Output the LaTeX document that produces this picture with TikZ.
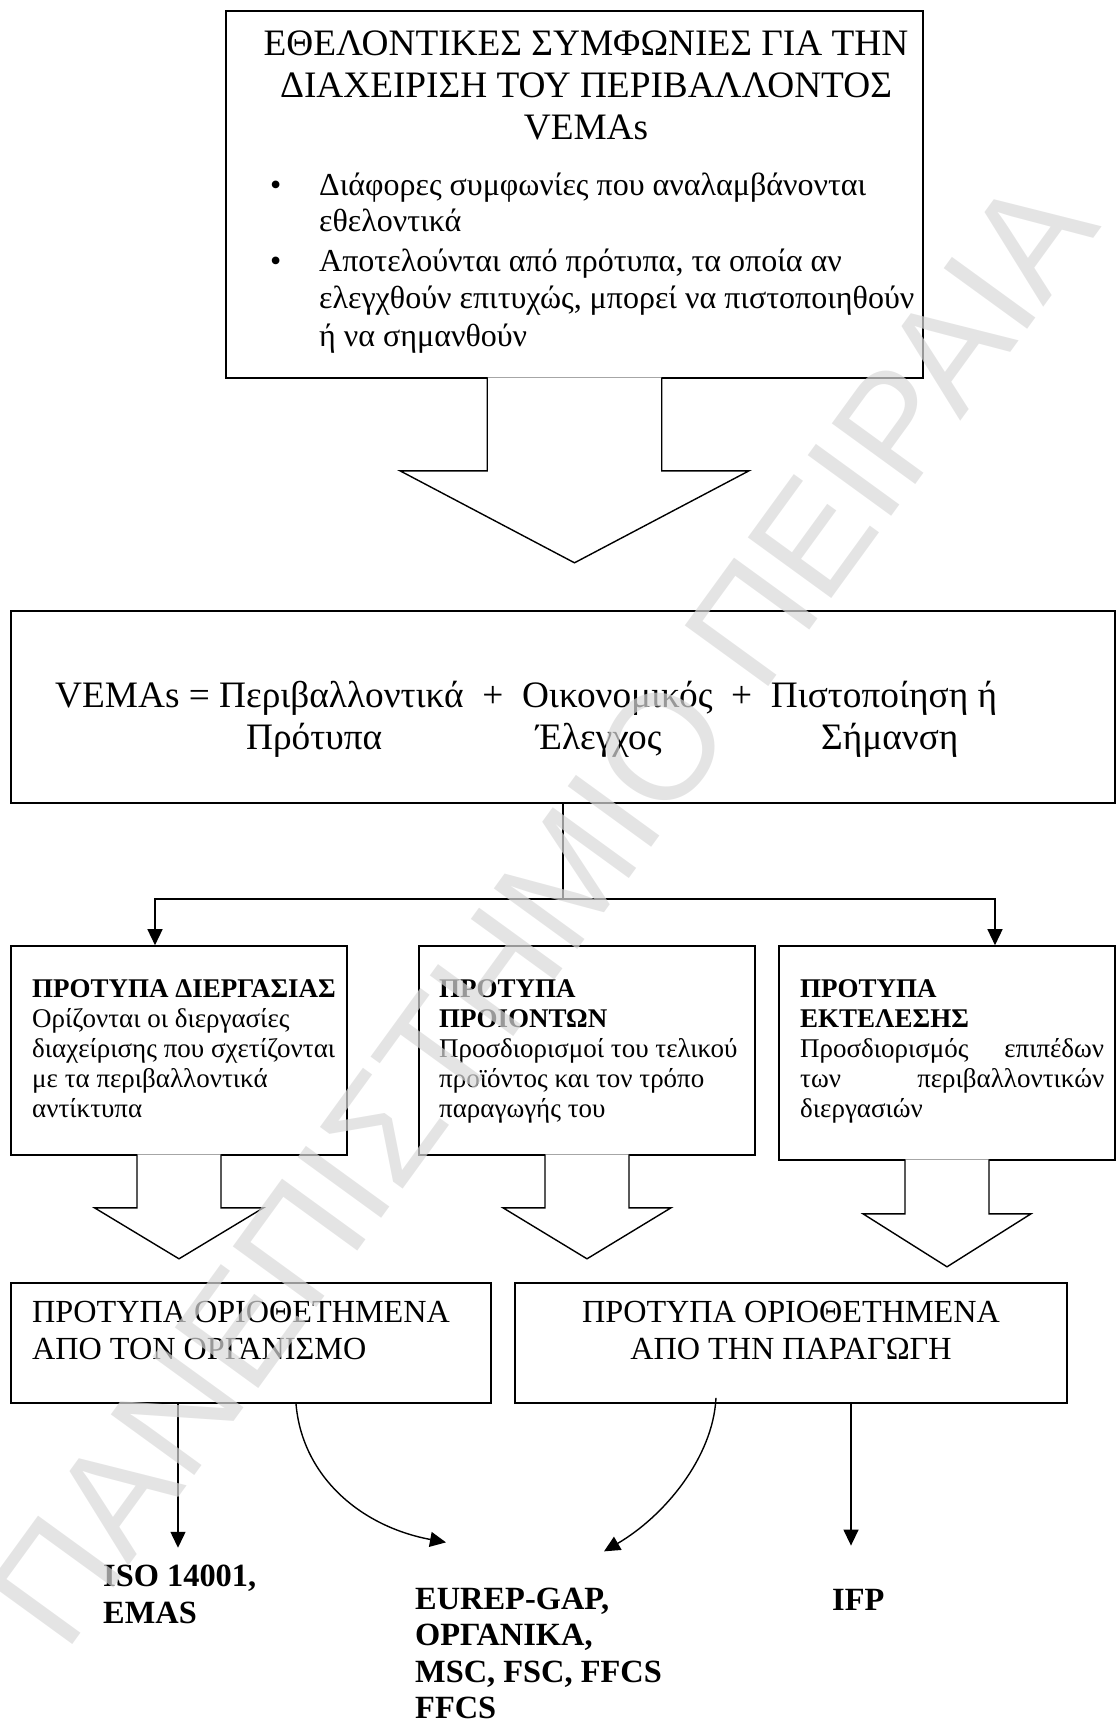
\documentclass[tikz,border=0pt]{standalone}
\usepackage{fontspec}
\setmainfont{Liberation Serif}
\newfontfamily\wmfont{Liberation Sans}
\usetikzlibrary{calc}
\usetikzlibrary{arrows.meta}
\newcommand{\hollowarrow}[5]{%
	\filldraw[fill=white,draw=black,line width=1.4pt] ($ (#1.south) + (-#2,-1.5) $) -- ++(0,#3+1.5) -- ++(#2-#4,0) -- ++(#4,#5) -- ++(#4,-#5) -- ++(#2-#4,0) -- ++(0,-#3-1.5);%
}
\tikzset{
	plainbox/.style={draw=black,line width=1.6pt,inner sep=0pt},
	conn/.style={line width=1.4pt,-{Triangle[length=16pt,width=15pt]}},
	bigtxt/.style={inner sep=0pt,font=\fontsize{37.3}{42}\selectfont},
	itemtxt/.style={inner sep=0pt,anchor=base west,align=left,font=\fontsize{32}{37.5}\selectfont},
	smalltxt/.style={inner sep=0pt,anchor=base west,align=left,font=\fontsize{27}{30}\selectfont},
	midtxt/.style={inner sep=0pt,anchor=base,font=\fontsize{32.2}{37}\selectfont},
	codetxt/.style={inner sep=0pt,anchor=base west,align=left,font=\bfseries\fontsize{32.4}{36.5}\selectfont},
}

\begin{document}
\begin{tikzpicture}[x=1pt,y=-1pt]
	\useasboundingbox (0,0) rectangle (1119,1724);
	\node[plainbox,minimum width=697pt,minimum height=367pt] (agree) at (574.5,194.5) {};
	\node[plainbox,minimum width=1104pt,minimum height=192pt] (eqbox) at (563,707) {};
	\node[plainbox,minimum width=336pt,minimum height=209pt] (proc) at (179,1050.5) {};
	\node[plainbox,minimum width=336pt,minimum height=209pt] (prod) at (587,1050.5) {};
	\node[plainbox,minimum width=336pt,minimum height=214pt] (perf) at (947,1053) {};
	\node[plainbox,minimum width=480pt,minimum height=120pt] (orgbox) at (251,1343) {};
	\node[plainbox,minimum width=552pt,minimum height=120pt] (prodbox) at (791,1343) {};
	\hollowarrow{agree}{87.25}{92}{174.5}{92}
	\hollowarrow{proc}{42}{52}{84.5}{51}
	\hollowarrow{prod}{42}{52}{84}{51}
	\hollowarrow{perf}{42}{53}{84}{53}
	\node[bigtxt,anchor=base,align=center] (title) at (586,139) {ΕΘΕΛΟΝΤΙΚΕΣ ΣΥΜΦΩΝΙΕΣ ΓΙΑ ΤΗΝ\\ΔΙΑΧΕΙΡΙΣΗ ΤΟΥ ΠΕΡΙΒΑΛΛΟΝΤΟΣ\\VEMAs};
	\node[itemtxt,font=\fontsize{32}{36}\selectfont] (item1) at (319,231) {\llap{•\hspace{38pt}}Διάφορες συμφωνίες που αναλαμβάνονται\\εθελοντικά};
	\node[itemtxt] (item2) at (319,346) {\llap{•\hspace{38pt}}Αποτελούνται από πρότυπα, τα οποία αν\\ελεγχθούν επιτυχώς, μπορεί να πιστοποιηθούν\\ή να σημανθούν};
	\node[bigtxt,anchor=base west] (eqline) at (55,707) {VEMAs = Περιβαλλοντικά~~+~~Οικονομικός~~+~~Πιστοποίηση ή};
	\node[bigtxt,anchor=base west] (eqa) at (246,749) {Πρότυπα};
	\node[bigtxt,anchor=base west] (eqb) at (536,749) {Έλεγχος};
	\node[bigtxt,anchor=base west] (eqc) at (821,749) {Σήμανση};
	\node[smalltxt] (proctxt) at (32,1117) {\textbf{ΠΡΟΤΥΠΑ ΔΙΕΡΓΑΣΙΑΣ}\\Ορίζονται οι διεργασίες\\διαχείρισης που σχετίζονται\\με τα περιβαλλοντικά\\αντίκτυπα};
	\node[smalltxt] (prodtxt) at (439,1117) {\textbf{ΠΡΟΤΥΠΑ}\\\textbf{ΠΡΟΙΟΝΤΩΝ}\\Προσδιορισμοί του τελικού\\προϊόντος και τον τρόπο\\παραγωγής του};
	\node[smalltxt,text width=304pt] (perftxt) at (800,997) {\textbf{ΠΡΟΤΥΠΑ}\\\textbf{ΕΚΤΕΛΕΣΗΣ}\\Προσδιορισμός\hfill επιπέδων\\των\hfill περιβαλλοντικών\\διεργασιών};
	\node[midtxt,anchor=base west,align=left] (orgtxt) at (32,1359) {ΠΡΟΤΥΠΑ ΟΡΙΟΘΕΤΗΜΕΝΑ\\ΑΠΟ ΤΟΝ ΟΡΓΑΝΙΣΜΟ};
	\node[midtxt,align=center] (prodsettxt) at (791,1359) {ΠΡΟΤΥΠΑ ΟΡΙΟΘΕΤΗΜΕΝΑ\\ΑΠΟ ΤΗΝ ΠΑΡΑΓΩΓΗ};
	\node[codetxt] (iso) at (103,1623) {ISO 14001,\\EMAS};
	\node[codetxt] (eurep) at (415,1718.5) {EUREP-GAP,\\ΟΡΓΑΝΙΚΑ,\\MSC, FSC, FFCS\\FFCS};
	\node[codetxt] (ifp) at (832,1610) {IFP};
	\coordinate (split) at (563,899);
	\draw[line width=1.4pt] (eqbox.south) -- (split);
	\draw[conn] (split) -| ([xshift=-24pt]proc.north);
	\draw[conn] (split) -| ([xshift=48pt]perf.north);
	\draw[conn] ([xshift=-73pt]orgbox.south) -- ([xshift=75pt,yshift=17pt]iso.north west);
	\draw[conn] ([xshift=45pt]orgbox.south) .. controls +(6,72) and +(-86,-16) .. ([xshift=31pt,yshift=45pt]eurep.north west);
	\draw[conn] ([xshift=-75pt,yshift=6pt]prodbox.south) .. controls +(-3,60) and +(60,-35) .. ([xshift=189pt,yshift=36pt]eurep.north west);
	\draw[conn] ([xshift=60pt]prodbox.south) -- ([xshift=19pt,yshift=43pt]ifp.north west);
	\node[rotate=54,text=black!15,opacity=0.7,font=\wmfont\fontsize{150}{150}\selectfont] (wm) at (542,910) {ΠΑΝΕΠΙΣΤΗΜΙΟ ΠΕΙΡΑΙΑ};
\end{tikzpicture}
\end{document}
